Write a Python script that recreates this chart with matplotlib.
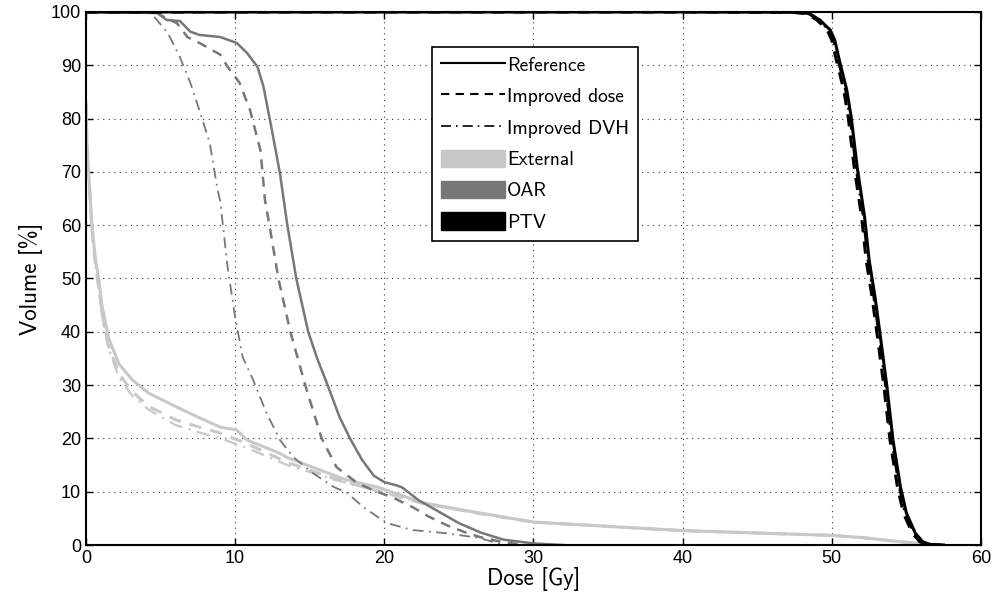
import matplotlib
matplotlib.use("Agg")
import matplotlib.pyplot as plt
from matplotlib.lines import Line2D
from matplotlib.patches import Patch

# dose [Gy] / volume [%]
ext_ref_dose = [0, 0.07, 0.18, 0.4, 0.62, 0.85, 1.07, 1.5, 2.2, 3.1, 4.2, 6.0, 7.5, 9.0, 10.1, 10.8, 13.0, 13.5, 16.6, 17.5, 19.5, 22.6, 26.4, 30.0, 33.1, 40, 50, 52, 55, 57]
ext_ref_vol = [83, 75, 70, 60, 54, 50, 45, 39, 34, 31, 28.5, 26, 24, 22.1, 21.6, 19.7, 17.2, 16.4, 13.1, 12.2, 10.9, 7.9, 6.0, 4.3, 3.8, 2.7, 1.8, 1.4, 0.5, 0]

ext_dose_dose = [0, 0.07, 0.18, 0.4, 0.62, 0.85, 1.07, 1.5, 2.2, 3.1, 4.2, 6.0, 7.5, 9.0, 10.8, 13.5, 16.6, 19.5, 22.6, 26.4, 30, 40, 50, 52, 55, 57]
ext_dose_vol = [83, 74, 69, 59, 53, 48.5, 43.5, 37.5, 32.2, 28.8, 26, 23.5, 22.2, 21.0, 19.0, 15.5, 12.5, 10.2, 7.8, 5.9, 4.3, 2.7, 1.8, 1.4, 0.5, 0]

ext_dvh_dose = [0, 0.07, 0.18, 0.4, 0.62, 0.85, 1.07, 1.5, 2.2, 3.1, 4.2, 6.0, 7.5, 9.0, 10.8, 13.5, 16.6, 19.5, 22.6, 26.4, 30, 40, 50, 52, 55, 57]
ext_dvh_vol = [83, 74, 69, 59, 53, 48, 43, 37, 31.5, 28, 25.4, 22.5, 21.2, 20.0, 18.2, 15.0, 12.3, 10.2, 7.8, 5.9, 4.3, 2.7, 1.8, 1.4, 0.5, 0]

oar_ref_dose = [0, 4.8, 5.4, 6.3, 7.0, 7.6, 9.0, 10.1, 10.8, 11.5, 11.9, 12.5, 13.0, 13.5, 14.1, 14.9, 15.5, 16.2, 17.0, 17.7, 18.5, 19.3, 20.0, 20.8, 21.2, 22.3, 23.5, 25.0, 26.5, 28.0, 30.0, 32.0]
oar_ref_vol = [100, 99.8, 98.5, 98.3, 96.3, 95.7, 95.3, 94.2, 92.3, 89.7, 86, 77.3, 69.8, 60, 50, 40, 35, 30, 24, 20, 16, 13, 11.8, 11.2, 10.8, 8.4, 6.5, 4.1, 2.3, 1.0, 0.3, 0]

oar_dose_dose = [0, 4.7, 5.0, 6.1, 6.8, 7.6, 9.0, 9.5, 10.3, 11.0, 11.7, 12.0, 12.3, 12.9, 13.7, 14.7, 15.8, 16.8, 18.2, 19.5, 20.5, 21.9, 23.0, 24.2, 25.5, 26.4, 28.0, 29.5]
oar_dose_vol = [100, 100, 99.4, 97.9, 95.3, 94.2, 92, 89.7, 86.7, 81.6, 74, 64.7, 60, 50, 40, 30, 20, 14.6, 11.6, 10.0, 9.0, 7.1, 5.3, 3.7, 2.3, 1.5, 0.5, 0]

oar_dvh_dose = [0, 4.3, 5.5, 6.3, 7.0, 7.6, 8.3, 8.8, 9.0, 9.5, 10.0, 10.5, 11.2, 12.1, 13.0, 13.9, 15.2, 16.6, 17.5, 18.6, 19.7, 20.2, 21.9, 24.2, 26.4, 28.0]
oar_dvh_vol = [100, 100, 96, 91.5, 86.7, 81.6, 75.4, 67, 64.5, 52, 42.8, 35.3, 31, 24.8, 19.7, 16.5, 13.5, 10.9, 9.8, 7.1, 5.0, 4.1, 2.8, 2.2, 1.3, 0]

ptv_ref_dose = [0, 20, 40, 47.5, 48.5, 49.2, 49.9, 50.2, 50.5, 51.0, 51.3, 51.7, 52.2, 52.5, 52.9, 53.2, 53.7, 54.1, 54.6, 55.0, 55.6, 56.1, 56.6, 57.5]
ptv_ref_vol = [100, 100, 100, 99.95, 99.7, 98.5, 96.6, 94.7, 91, 85.4, 80.3, 70.9, 61.5, 53.5, 46.5, 40.3, 29.6, 19.7, 10.9, 6, 2.2, 0.6, 0.1, 0]

ptv_dose_dose = [0, 20, 40, 47.3, 48.3, 49.0, 49.7, 50.0, 50.3, 50.8, 51.1, 51.5, 52.0, 52.3, 52.7, 53.0, 53.5, 53.9, 54.4, 54.8, 55.4, 55.9, 56.4, 57.3]
ptv_dose_vol = ptv_ref_vol

ptv_dvh_dose = [0, 20, 40, 47.4, 48.4, 49.1, 49.8, 50.1, 50.4, 50.9, 51.2, 51.6, 52.1, 52.4, 52.8, 53.1, 53.6, 54.0, 54.5, 54.9, 55.5, 56.0, 56.5, 57.4]
ptv_dvh_vol = ptv_ref_vol

ext_col = '#c8c8c8'
oar_col = '#777777'
ptv_col = '#000000'
dash = (0, (4, 3))
dashdot = (0, (6, 3, 1, 3))
label_font = 'cmss10'

fig = plt.figure(figsize=(9.95, 6.08), dpi=100)
ax = fig.add_axes([0.0864, 0.1036, 0.8995, 0.8767])

# external
ax.plot(ext_ref_dose, ext_ref_vol, color=ext_col, lw=2.2, ls='-')
ax.plot(ext_dose_dose, ext_dose_vol, color=ext_col, lw=2.2, ls=dash)
ax.plot(ext_dvh_dose, ext_dvh_vol, color=ext_col, lw=1.6, ls=dashdot)
# OAR
ax.plot(oar_ref_dose, oar_ref_vol, color=oar_col, lw=1.8, ls='-')
ax.plot(oar_dose_dose, oar_dose_vol, color=oar_col, lw=1.8, ls=dash)
ax.plot(oar_dvh_dose, oar_dvh_vol, color=oar_col, lw=1.3, ls=dashdot)
# PTV
ax.plot(ptv_dose_dose, ptv_dose_vol, color=ptv_col, lw=2.2, ls=dash)
ax.plot(ptv_dvh_dose, ptv_dvh_vol, color=ptv_col, lw=1.6, ls=dashdot)
ax.plot(ptv_ref_dose, ptv_ref_vol, color=ptv_col, lw=2.2, ls='-')

ax.set_xlim(0, 60)
ax.set_ylim(0, 100)
ax.set_xticks(range(0, 61, 10))
ax.set_yticks(range(0, 101, 10))
ax.tick_params(direction='in', top=True, right=True, length=5, width=1, labelsize=13)
for lab in ax.get_xticklabels() + ax.get_yticklabels():
    lab.set_family('Liberation Sans')
ax.grid(True, ls=(0, (1, 4)), color='#333333', lw=0.8)
for s in ax.spines.values():
    s.set_linewidth(1.5)

ax.set_xlabel('Dose [Gy]', fontsize=16.5, family=label_font, labelpad=0)
ax.set_ylabel('Volume [%]', fontsize=16.5, family=label_font, labelpad=6)

handles = [
    Line2D([], [], color='k', lw=1.5, ls='-'),
    Line2D([], [], color='k', lw=1.5, ls=dash),
    Line2D([], [], color='k', lw=1.2, ls=dashdot),
    Patch(color=ext_col),
    Patch(color=oar_col),
    Patch(color=ptv_col),
]
labels = ['Reference', 'Improved dose', 'Improved DVH', 'External', 'OAR', 'PTV']
leg = ax.legend(handles, labels, loc='upper left', bbox_to_anchor=(0.387, 0.935),
                prop={'family': label_font, 'size': 14}, frameon=True, fancybox=False,
                edgecolor='k', handlelength=3.3, handleheight=1.0, handletextpad=0.1,
                labelspacing=0.62, borderpad=0.45, borderaxespad=0)
leg.get_frame().set_linewidth(1.2)
leg.get_frame().set_alpha(1)

fig.savefig('out.png', dpi=100)
